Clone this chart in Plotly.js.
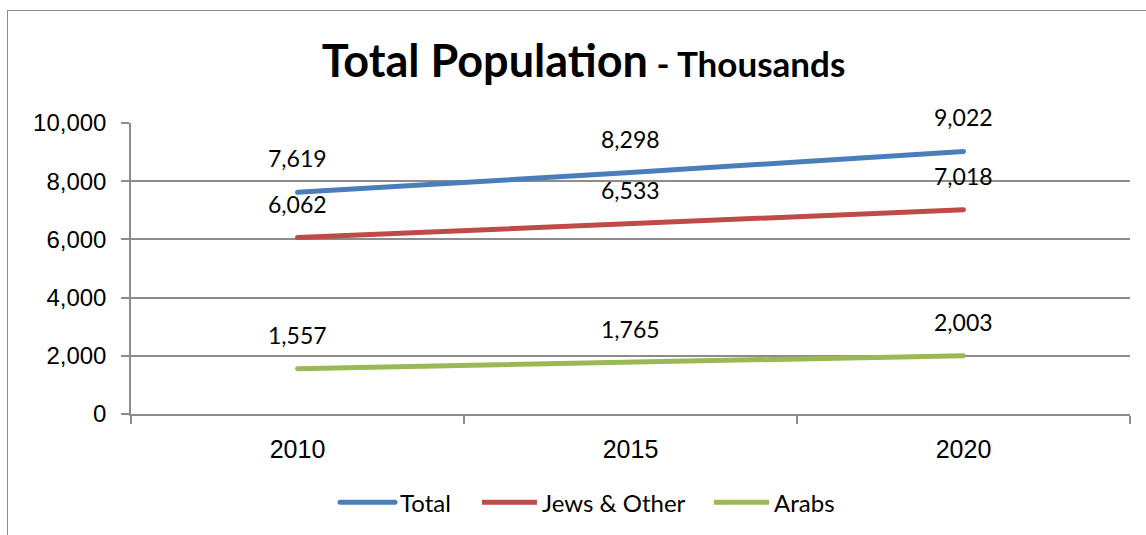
<!DOCTYPE html>
<html><head><meta charset="utf-8">
<script src="https://cdn.plot.ly/plotly-3.0.1.min.js"></script>
<style>
html,body{margin:0;padding:0;background:#fff;overflow:hidden}
#chart{width:1146px;height:535px;position:absolute;left:0;top:0}
#frame{position:absolute;left:7px;top:10px;width:1200px;height:600px;border:1.5px solid #8c8c8c;pointer-events:none}
#chart .scatterlayer path.js-line, #chart .legend path.js-line{stroke-linecap:round}
</style></head>
<body>
<div id="chart"></div>
<div id="frame"></div>
<script>
const years = ['2010', '2015', '2020'];
const total = [7619, 8298, 9022];
const jews = [6062, 6533, 7018];
const arabs = [1557, 1765, 2003];
const seriesNames = ['Total', 'Jews & Other', 'Arabs'];
const colors = ['#4a7ebb', '#be4b48', '#98b954'];
const series = [total, jews, arabs];
const legendIds = ['legend', 'legend2', 'legend3'];

const fmt = v => String(v).replace(/\B(?=(\d{3})+(?!\d))/g, ',');
const traces = series.map((s, i) => ({
  x: years, y: s, name: seriesNames[i], type: 'scatter', mode: 'lines',
  line: {color: colors[i], width: 5}, hoverinfo: 'skip', legend: legendIds[i]
}));
const annotations = [];
series.forEach(s => s.forEach((v, j) => annotations.push({
  x: j, y: v, xref: 'x', yref: 'y', text: fmt(v), showarrow: false, yshift: 34,
  font: {family: 'Lato, sans-serif', size: 23, color: '#000'}
})));

const legendBase = {
  orientation: 'h', xanchor: 'left', y: -0.305, yanchor: 'middle',
  font: {family: 'Lato, sans-serif', size: 24, color: '#000'},
  itemwidth: 55, bgcolor: 'rgba(0,0,0,0)'
};
const legendX = [0.2042, 0.3463, 0.5786];

const layout = {
  width: 1146, height: 535,
  margin: {l: 131, r: 16, t: 123, b: 121, autoexpand: false},
  paper_bgcolor: '#fff', plot_bgcolor: '#fff',
  title: {
    text: '<b>Total Population</b><span style="font-size:35px"><b> - Thousands</b></span>',
    font: {family: 'Lato, sans-serif', size: 45, color: '#000'},
    x: 0.453, xanchor: 'center', xref: 'paper', y: 0.885, yanchor: 'middle', yref: 'container'
  },
  xaxis: {
    type: 'category', range: [-0.5, 2.5], tickson: 'boundaries',
    ticks: 'outside', ticklen: 8, tickcolor: '#8c8c8c', tickwidth: 1.5,
    showgrid: false, showline: true, linecolor: '#8c8c8c', linewidth: 1.5,
    tickfont: {family: 'Liberation Sans, Arial, sans-serif', size: 25, color: '#000'},
    ticklabelstandoff: 12,
    zeroline: false, fixedrange: true
  },
  yaxis: {
    range: [0, 10000], tickvals: [0, 2000, 4000, 6000, 8000, 10000],
    ticktext: ['0', '2,000', '4,000', '6,000', '8,000', '10,000'],
    ticks: 'outside', ticklen: 8, tickcolor: '#8c8c8c', tickwidth: 1.5,
    showgrid: true, gridcolor: '#8c8c8c', gridwidth: 1.5,
    showline: true, linecolor: '#8c8c8c', linewidth: 1.5, zeroline: false,
    tickfont: {family: 'Liberation Sans, Arial, sans-serif', size: 24, color: '#000'},
    ticklabelstandoff: 10,
    fixedrange: true
  },
  legend: Object.assign({}, legendBase, {x: legendX[0]}),
  legend2: Object.assign({}, legendBase, {x: legendX[1]}),
  legend3: Object.assign({}, legendBase, {x: legendX[2]}),
  showlegend: true,
  annotations: annotations
};
Plotly.newPlot('chart', traces, layout, {displayModeBar: false});
</script>
</body></html>
